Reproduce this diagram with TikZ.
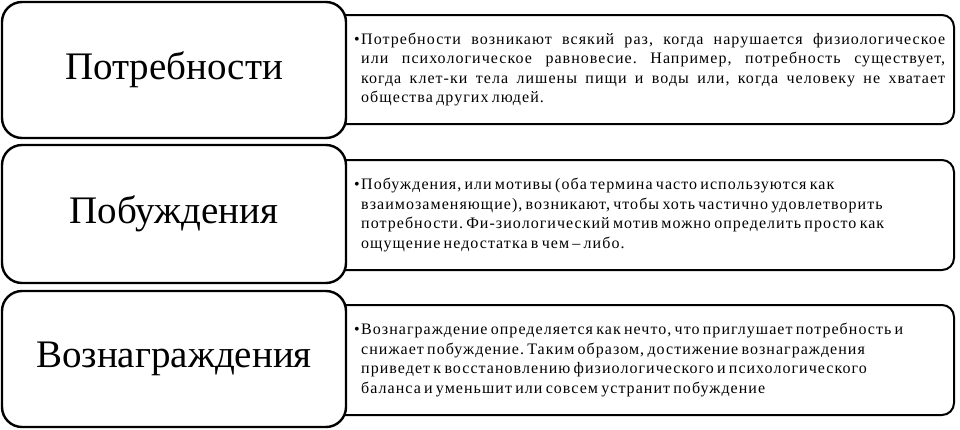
\documentclass[tikz,border=0pt]{standalone}
\usepackage{fontspec}
\setmainfont{Liberation Serif}
\newfontfamily\spaced[LetterSpace=6.5,WordSpace=0.65]{Liberation Serif}
\begin{document}
\frenchspacing
\begin{tikzpicture}[x=1pt,y=-1pt,
  leftbox/.style={draw=black,line width=2.4pt,fill=white,rounded corners=20pt,
    minimum width=344pt,inner sep=0pt,font=\fontsize{39}{45}\selectfont},
  rightbox/.style={draw=black,line width=2pt,fill=white,rounded corners=12pt,
    minimum width=634pt,inner sep=0pt},
  desc/.style={anchor=west,inner sep=0pt,align=left,font=\spaced\fontsize{16}{19.5}\selectfont\frenchspacing}]
\useasboundingbox (0,0) rectangle (960,429);
% right boxes
\node[rightbox,minimum height=109pt] (r1) at (637,69.5) {};
\node[rightbox,minimum height=110pt] (r2) at (637,215) {};
\node[rightbox,minimum height=110pt] (r3) at (637,360) {};
% left boxes
\node[leftbox,minimum height=136pt] (l1) at (174,70) {Потребности};
\node[leftbox,minimum height=138pt] (l2) at (174,214) {Побуждения};
\node[leftbox,minimum height=136pt] (l3) at (174,359) {Вознаграждения};
% texts
\node[desc] (t1) at (354,69.5) {\makebox[7pt][l]{•}\parbox[t]{584pt}{Потребности возникают всякий раз, когда нарушается физиологическое\linebreak или психологическое равновесие. Например, потребность существует,\linebreak когда клет-ки тела лишены пищи и воды или, когда человеку не хватает\linebreak общества других людей.}};
\node[desc] (t2) at (354,215) {\makebox[7pt][l]{•}\parbox[t]{584pt}{\raggedright Побуждения, или мотивы (оба термина часто используются как\\ взаимозаменяющие), возникают, чтобы хоть частично удовлетворить\\ потребности. Фи-зиологический мотив можно определить просто как\\ ощущение недостатка в чем – либо.}};
\node[desc] (t3) at (354,360) {\makebox[7pt][l]{•}\parbox[t]{584pt}{\raggedright Вознаграждение определяется как нечто, что приглушает потребность и\\ снижает побуждение. Таким образом, достижение вознаграждения\\ приведет к восстановлению физиологического и психологического\\ баланса и уменьшит или совсем устранит побуждение}};
\end{tikzpicture}
\end{document}
